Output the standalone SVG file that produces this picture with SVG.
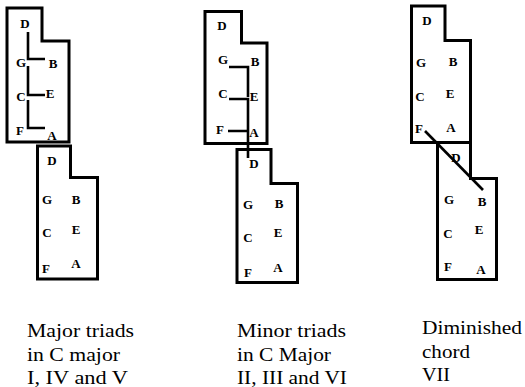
<svg xmlns="http://www.w3.org/2000/svg" width="525" height="387" viewBox="0 0 525 387">
<style>
.box{fill:none;stroke:#000;stroke-width:3;stroke-linejoin:miter}
.ln{fill:none;stroke:#000;stroke-width:2.6}
.n{font-family:"Liberation Serif","Times New Roman",serif;font-weight:700;font-size:13px;text-anchor:middle;fill:#000}
.cap{font-family:"Liberation Serif",serif;font-size:19px;fill:#000}
</style>
<rect width="525" height="387" fill="#fff"/>
<g id="major-top">
<path class="box" d="M7,8 H42 V41 H69 V142 H7 Z"/>
<text class="n" x="25" y="27.5">D</text>
<text class="n" x="21" y="66.5">G</text>
<text class="n" x="53" y="67.5">B</text>
<text class="n" x="21" y="100.5">C</text>
<text class="n" x="50" y="97.5">E</text>
<text class="n" x="20" y="134.5">F</text>
<text class="n" x="52" y="139.5">A</text>
</g>
<g id="major-bottom">
<path class="box" d="M37.5,146 H70.5 V177.5 H97.5 V279 H37.5 Z"/>
<text class="n" x="52" y="164.5">D</text>
<text class="n" x="47" y="203.5">G</text>
<text class="n" x="76" y="203.5">B</text>
<text class="n" x="47" y="236.5">C</text>
<text class="n" x="76" y="233.5">E</text>
<text class="n" x="46" y="272.5">F</text>
<text class="n" x="76" y="267.5">A</text>
</g>
<g id="minor-top">
<path class="box" d="M205,11.5 H241.5 V43 H267 V143.5 H205 Z"/>
<text class="n" x="222" y="29.5">D</text>
<text class="n" x="223" y="63.5">G</text>
<text class="n" x="255" y="65.5">B</text>
<text class="n" x="223" y="97.5">C</text>
<text class="n" x="254" y="100.5">E</text>
<text class="n" x="220" y="133.5">F</text>
<text class="n" x="254" y="136.5">A</text>
</g>
<g id="minor-bottom">
<path class="box" d="M237,149.5 H271 V183.5 H297.5 V282.5 H237 Z"/>
<text class="n" x="254" y="167.5">D</text>
<text class="n" x="248" y="208.5">G</text>
<text class="n" x="279" y="207.5">B</text>
<text class="n" x="248" y="241.5">C</text>
<text class="n" x="278" y="236.5">E</text>
<text class="n" x="248" y="276.5">F</text>
<text class="n" x="278" y="271.5">A</text>
</g>
<g id="dim-top">
<path class="box" d="M411.5,6 H445 V40.5 H470.5 V142.5 H411.5 Z"/>
<text class="n" x="427" y="24.5">D</text>
<text class="n" x="421" y="66.5">G</text>
<text class="n" x="453" y="65.5">B</text>
<text class="n" x="420" y="100.5">C</text>
<text class="n" x="450" y="97.5">E</text>
<text class="n" x="419" y="132.5">F</text>
<text class="n" x="451" y="131.5">A</text>
</g>
<g id="dim-bottom">
<path class="box" d="M437.5,142.5 H470.5 V178.5 H496.5 V279.5 H437.5 Z"/>
<text class="n" x="456" y="161.5">D</text>
<text class="n" x="449" y="203.5">G</text>
<text class="n" x="482" y="205.5">B</text>
<text class="n" x="448" y="237.5">C</text>
<text class="n" x="479" y="233.5">E</text>
<text class="n" x="448" y="270.5">F</text>
<text class="n" x="481" y="273.5">A</text>
</g>
<g id="connectors">
<path class="ln" d="M28,32 V59 H45 M28,66 V95 H45 M28,100 V128 H45"/>
<path class="ln" d="M229,67 H248 V97 M229,99 H248 V158 M228,131 H248"/>
<path class="ln" stroke-width="4" d="M425,131 L483,190"/>
</g>
<g id="captions">
<text class="cap" x="27" y="337" textLength="107" lengthAdjust="spacingAndGlyphs">Major triads</text>
<text class="cap" x="27" y="361" textLength="93" lengthAdjust="spacingAndGlyphs">in C major</text>
<text class="cap" x="27" y="384" textLength="101" lengthAdjust="spacingAndGlyphs">I, IV and V</text>
<text class="cap" x="237" y="337" textLength="109" lengthAdjust="spacingAndGlyphs">Minor triads</text>
<text class="cap" x="237" y="361" textLength="94" lengthAdjust="spacingAndGlyphs">in C Major</text>
<text class="cap" x="237" y="384" textLength="110" lengthAdjust="spacingAndGlyphs">II, III and VI</text>
<text class="cap" x="422" y="334" textLength="100" lengthAdjust="spacingAndGlyphs">Diminished</text>
<text class="cap" x="422" y="358" textLength="48" lengthAdjust="spacingAndGlyphs">chord</text>
<text class="cap" x="422" y="381" textLength="28" lengthAdjust="spacingAndGlyphs">VII</text>
</g>
</svg>
